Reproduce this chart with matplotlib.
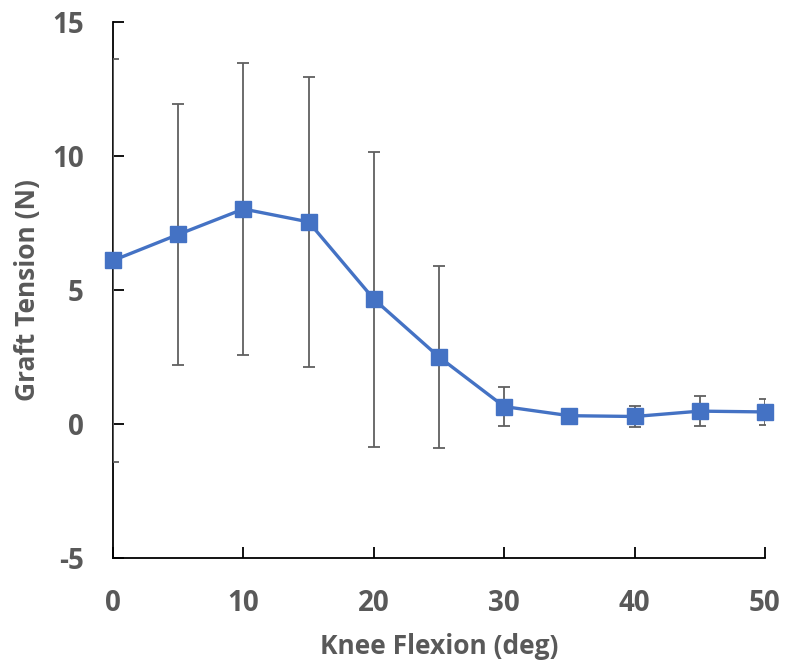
import matplotlib.pyplot as plt

# ==========================
# Data
# ==========================

flexion = [0, 5, 10, 15, 20, 25, 30, 35, 40, 45, 50]
tension = [6.1, 7.07, 8.02, 7.54, 4.66, 2.5, 0.65, 0.31, 0.28, 0.48, 0.45]
tension_sd = [7.52, 4.87, 5.45, 5.41, 5.5, 3.4, 0.73, 0.2, 0.4, 0.55, 0.47]

x_ticks = [0, 10, 20, 30, 40, 50]
y_ticks = [-5, 0, 5, 10, 15]

text_color = "#595959"
blue = "#4472C4"

plt.rcParams["font.family"] = ["Open Sans", "DejaVu Sans"]
plt.rcParams["font.weight"] = "bold"
plt.rcParams["axes.unicode_minus"] = False

# ==========================
# Plot
# ==========================

fig = plt.figure(figsize=(7.85, 6.64), dpi=100)
ax = fig.add_axes([0.144, 0.1596, 0.8305, 0.8074])

ax.errorbar(
    flexion,
    tension,
    yerr=tension_sd,
    fmt="none",
    ecolor="#606060",
    elinewidth=1.3,
    capsize=4.5,
    capthick=1.3,
    zorder=3
)

ax.plot(
    flexion,
    tension,
    color=blue,
    linewidth=2.4,
    marker="s",
    markersize=12,
    zorder=4,
    clip_on=False
)

ax.set_xlim(0, 50)
ax.set_ylim(-5, 15)
ax.set_xticks(x_ticks)
ax.set_yticks(y_ticks)

for side in ["top", "right"]:
    ax.spines[side].set_visible(False)
for side in ["left", "bottom"]:
    ax.spines[side].set_color("black")
    ax.spines[side].set_linewidth(1.3)

ax.tick_params(
    direction="in",
    length=8,
    width=1.3,
    labelsize=20,
    labelcolor=text_color
)
ax.tick_params(axis="x", pad=22)
ax.tick_params(axis="y", pad=21)

ax.set_xlabel(
    "Knee Flexion (deg)",
    fontsize=19,
    fontweight="bold",
    color=text_color
)
ax.set_ylabel(
    "Graft Tension (N)",
    fontsize=19,
    fontweight="bold",
    color=text_color
)
ax.xaxis.set_label_coords(0.5, -0.14)
ax.yaxis.set_label_coords(-0.11, 0.5)

fig.savefig("out.png", dpi=100)
